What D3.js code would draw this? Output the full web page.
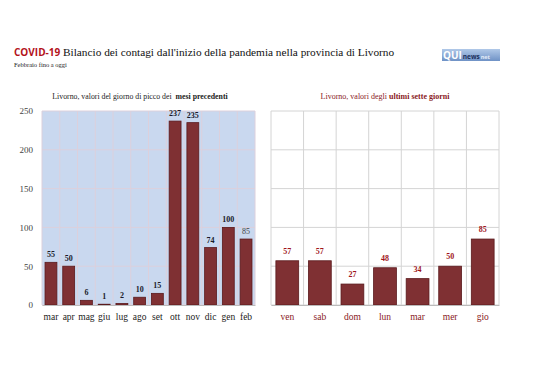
<!DOCTYPE html>
<html>
<head>
<meta charset="utf-8">
<script src="https://cdn.jsdelivr.net/npm/d3@7"></script>
<style>
  body { margin: 0; background: #fff; }
  svg { display: block; }
</style>
</head>
<body>
<div id="chart"></div>
<script>
// mesi precedenti (picco giornaliero)
var months = ["mar", "apr", "mag", "giu", "lug", "ago", "set", "ott", "nov", "dic", "gen", "feb"];
var monthValues = [55, 50, 6, 1, 2, 10, 15, 237, 235, 74, 100, 85];

// ultimi sette giorni
var days = ["ven", "sab", "dom", "lun", "mar", "mer", "gio"];
var dayValues = [57, 57, 27, 48, 34, 50, 85];

var yTicks = [0, 50, 100, 150, 200, 250];

var W = 538, H = 380;
var serif = "Liberation Serif, DejaVu Serif, serif";
var barFill = "#7f3033", barStroke = "#5a1a1d";

var svg = d3.select("#chart").append("svg")
  .attr("width", W).attr("height", H);

// titolo
var title = svg.append("text")
  .attr("x", 14).attr("y", 56)
  .attr("font-family", serif)
  .attr("font-size", "11.3px")
  .attr("fill", "#111");
title.append("tspan")
  .attr("font-family", "Open Sans, Noto Sans, sans-serif")
  .attr("font-weight", "bold")
  .attr("font-size", "10px")
  .attr("fill", "#b3121b")
  .text("COVID-19");
title.append("tspan")
  .text(" Bilancio dei contagi dall'inizio della pandemia nella provincia di Livorno");

svg.append("text")
  .attr("x", 14).attr("y", 67)
  .attr("font-family", serif)
  .attr("font-size", "6.5px")
  .attr("fill", "#222")
  .text("Febbraio fino a oggi");

// logo
var grad = svg.append("defs").append("linearGradient")
  .attr("id", "logoGrad").attr("x1", 0).attr("y1", 0).attr("x2", 0).attr("y2", 1);
grad.append("stop").attr("offset", "0%").attr("stop-color", "#b0c8e8");
grad.append("stop").attr("offset", "100%").attr("stop-color", "#6f92c6");
svg.append("rect")
  .attr("x", 442).attr("y", 49).attr("width", 58).attr("height", 12)
  .attr("fill", "url(#logoGrad)");
var logo = svg.append("text")
  .attr("x", 443).attr("y", 58.5)
  .attr("font-family", "Open Sans, sans-serif")
  .attr("font-weight", "bold");
logo.append("tspan").attr("font-size", "10px").attr("fill", "#fff").text("QUI");
logo.append("tspan").attr("font-size", "6.5px").attr("fill", "#1d2f5a").attr("dx", 1).text("news");
logo.append("tspan").attr("font-size", "5.5px").attr("fill", "#e4ecf7").attr("dx", 1).text("net");

var y = d3.scaleLinear().domain([0, 250]).range([305, 111]);

// --- pannello sinistro ---
var xL = d3.scaleBand().domain(months).range([42, 255]).paddingInner(0.33).paddingOuter(0.17);

svg.append("rect")
  .attr("x", 42).attr("y", y(250))
  .attr("width", 213).attr("height", y(0) - y(250))
  .attr("fill", "#c9d8ef");

var gL = svg.append("g");
gL.selectAll("line.h").data(yTicks).enter().append("line")
  .attr("x1", 42).attr("x2", 255)
  .attr("y1", function(d) { return y(d); }).attr("y2", function(d) { return y(d); })
  .attr("stroke", "#dcd0dc").attr("stroke-width", 1);
gL.selectAll("line.v").data(d3.range(months.length + 1)).enter().append("line")
  .attr("x1", function(i) { return 42 + i * (213 / months.length); })
  .attr("x2", function(i) { return 42 + i * (213 / months.length); })
  .attr("y1", y(250)).attr("y2", y(0))
  .attr("stroke", "#dcd0dc").attr("stroke-width", 1);

gL.selectAll("rect.bar").data(monthValues).enter().append("rect")
  .attr("x", function(d, i) { return xL(months[i]); })
  .attr("width", xL.bandwidth())
  .attr("y", function(d) { return y(d); })
  .attr("height", function(d) { return y(0) - y(d); })
  .attr("fill", barFill).attr("stroke", barStroke).attr("stroke-width", 0.8);

gL.selectAll("text.val").data(monthValues).enter().append("text")
  .attr("x", function(d, i) { return xL(months[i]) + xL.bandwidth() / 2; })
  .attr("y", function(d) { return y(d) - 5; })
  .attr("text-anchor", "middle")
  .attr("font-family", serif)
  .attr("font-size", "8px")
  .attr("font-weight", function(d, i) { return i == months.length - 1 ? "normal" : "bold"; })
  .attr("fill", function(d, i) { return i == months.length - 1 ? "#444" : "#1a1a2a"; })
  .text(function(d) { return d; });

// asse y
var yAxis = svg.append("g")
  .attr("transform", "translate(42,0)")
  .call(d3.axisLeft(y).tickValues(yTicks).tickSize(0).tickPadding(9));
yAxis.select(".domain").remove();
yAxis.selectAll("text")
  .attr("font-family", serif).attr("font-size", "9px").attr("fill", "#444");

var xAxisL = svg.append("g")
  .attr("transform", "translate(0,305)")
  .call(d3.axisBottom(xL).tickSize(0).tickPadding(8));
xAxisL.select(".domain").attr("stroke", "#bbb");
xAxisL.selectAll("text")
  .attr("font-family", serif).attr("font-size", "9.5px").attr("fill", "#222");

var subL = svg.append("text")
  .attr("x", 140).attr("y", 99)
  .attr("text-anchor", "middle")
  .attr("font-family", serif).attr("font-size", "7.8px").attr("fill", "#222");
subL.append("tspan").text("Livorno, valori del giorno di picco dei ");
subL.append("tspan").attr("font-weight", "bold").attr("dx", 2).text("mesi precedenti");

// --- pannello destro ---
var xR = d3.scaleBand().domain(days).range([271, 499]).paddingInner(0.3).paddingOuter(0.15);

var gR = svg.append("g");
gR.selectAll("line.h").data(yTicks).enter().append("line")
  .attr("x1", 271).attr("x2", 499)
  .attr("y1", function(d) { return y(d); }).attr("y2", function(d) { return y(d); })
  .attr("stroke", "#d4d4d4").attr("stroke-width", 1);
gR.selectAll("line.v").data(d3.range(days.length + 1)).enter().append("line")
  .attr("x1", function(i) { return 271 + i * (228 / days.length); })
  .attr("x2", function(i) { return 271 + i * (228 / days.length); })
  .attr("y1", y(250)).attr("y2", y(0))
  .attr("stroke", "#d4d4d4").attr("stroke-width", 1);

gR.selectAll("rect.bar").data(dayValues).enter().append("rect")
  .attr("x", function(d, i) { return xR(days[i]); })
  .attr("width", xR.bandwidth())
  .attr("y", function(d) { return y(d); })
  .attr("height", function(d) { return y(0) - y(d); })
  .attr("fill", barFill).attr("stroke", barStroke).attr("stroke-width", 0.8);

gR.selectAll("text.val").data(dayValues).enter().append("text")
  .attr("x", function(d, i) { return xR(days[i]) + xR.bandwidth() / 2; })
  .attr("y", function(d) { return y(d) - 7; })
  .attr("text-anchor", "middle")
  .attr("font-family", serif)
  .attr("font-size", "8px")
  .attr("font-weight", "bold")
  .attr("fill", "#a0151b")
  .text(function(d) { return d; });

var xAxisR = svg.append("g")
  .attr("transform", "translate(0,305)")
  .call(d3.axisBottom(xR).tickSize(0).tickPadding(8));
xAxisR.select(".domain").attr("stroke", "#bbb");
xAxisR.selectAll("text")
  .attr("font-family", serif).attr("font-size", "9.5px").attr("fill", "#8a1a1e");

var subR = svg.append("text")
  .attr("x", 385).attr("y", 99)
  .attr("text-anchor", "middle")
  .attr("font-family", serif).attr("font-size", "8px").attr("fill", "#8a1a1e");
subR.append("tspan").text("Livorno, valori degli ");
subR.append("tspan").attr("font-weight", "bold").text("ultimi sette giorni");
</script>
</body>
</html>
